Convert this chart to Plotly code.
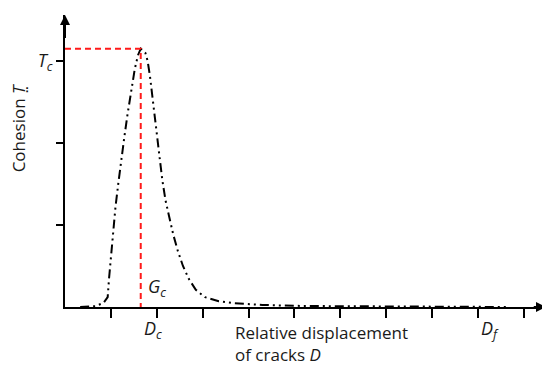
import plotly.graph_objects as go

# Traction-separation curve
disp = [0.33, 0.66, 0.84, 0.93, 0.96, 1.00, 1.05, 1.10, 1.16, 1.22, 1.29, 1.36, 1.44, 1.52,
        1.59, 1.65, 1.75, 1.80, 1.85, 1.90, 1.95, 2.00, 2.06, 2.12, 2.19, 2.27, 2.36, 2.46,
        2.57, 2.70, 2.85, 3.05, 3.35, 3.70, 4.30, 5.20, 6.50, 8.00, 9.63]
cohesion = [0.0, 0.01, 0.05, 0.12, 0.35, 0.62, 0.93, 1.22, 1.50, 1.78, 2.06, 2.34, 2.63, 2.90,
            3.07, 3.15, 3.10, 3.00, 2.82, 2.60, 2.35, 2.10, 1.83, 1.55, 1.30, 1.10, 0.88, 0.68,
            0.50, 0.34, 0.21, 0.12, 0.07, 0.045, 0.025, 0.012, 0.006, 0.004, 0.0]
x_ticks = [1, 2, 3, 4, 5, 6, 7, 8, 9, 10]
y_ticks = [1, 2, 3]
y_tick_text = ["", "", "<i>T</i><sub><i>c</i></sub>"]

X_MAX = 10.48
Y_MAX = 3.56

ipk = max(range(len(cohesion)), key=lambda i: cohesion[i])
Dc, Tpk = disp[ipk], cohesion[ipk]

FONT = "Open Sans"

fig = go.Figure()
fig.add_trace(go.Scatter(
    x=disp, y=cohesion, mode="lines",
    line=dict(color="black", width=2, dash="9px,4px,2px,4px,2px,4px"),
    hoverinfo="skip", showlegend=False, cliponaxis=False))
fig.add_trace(go.Scatter(
    x=[0, Dc, Dc], y=[Tpk, Tpk, 0], mode="lines",
    line=dict(color="#ff1a1a", width=2, dash="6px,4px"),
    hoverinfo="skip", showlegend=False, cliponaxis=False))

# page has an 8px body margin, so the figure is sized/offset to compensate
fig.update_layout(
    width=542, height=361,
    margin=dict(l=57, r=4, t=7, b=62),
    paper_bgcolor="white", plot_bgcolor="white",
    font=dict(family=FONT, size=17, color="#1a1a1a"),
    xaxis=dict(range=[0, X_MAX], showgrid=False, zeroline=False, showline=True, automargin=False,
               linecolor="black", linewidth=2, ticks="outside", ticklen=9, tickwidth=2,
               tickcolor="black", tickvals=x_ticks, showticklabels=False),
    yaxis=dict(range=[0, Y_MAX], showgrid=False, zeroline=False, showline=True, automargin=False,
               linecolor="black", linewidth=2, ticks="outside", ticklen=7, tickwidth=2,
               tickcolor="black", tickvals=y_ticks, ticktext=y_tick_text,
               tickfont=dict(size=18, family=FONT), ticklabelstandoff=0),
)

# axis arrows
fig.add_annotation(x=X_MAX, y=0, ax=X_MAX - 0.3, ay=0, xref="x", yref="y", axref="x", ayref="y",
                   showarrow=True, arrowhead=2, arrowsize=1, arrowwidth=2, arrowcolor="black", text="")
fig.add_annotation(x=0, y=Y_MAX, ax=0, ay=Y_MAX - 0.3, xref="x", yref="y", axref="x", ayref="y",
                   showarrow=True, arrowhead=2, arrowsize=1, arrowwidth=2, arrowcolor="black", text="")

# text labels
fig.add_annotation(xref="paper", yref="paper", x=-0.097, y=0.613,
                   text="Cohesion <i>T</i><span style='font-family:DejaVu Sans'>\u0324</span>",
                   textangle=-90, showarrow=False, xanchor="center", yanchor="middle")
fig.add_annotation(x=Dc + 0.27, y=-0.13, xref="x", yref="paper", text="<i>D</i><sub><i>c</i></sub>",
                   showarrow=False, font=dict(size=18))
fig.add_annotation(x=Dc + 0.35, y=0.24, xref="x", yref="y", text="<i>G</i><sub><i>c</i></sub>",
                   showarrow=False, font=dict(size=18))
fig.add_annotation(x=9.25, y=-0.13, xref="x", yref="paper", text="<i>D</i><sub><i>f</i></sub>",
                   showarrow=False, font=dict(size=18))
fig.add_annotation(x=3.66, y=-0.04, xref="x", yref="paper", xanchor="left", yanchor="top", align="left",
                   text="Relative displacement<br>of cracks <i>D</i>", showarrow=False)

fig.write_html("out.html")
